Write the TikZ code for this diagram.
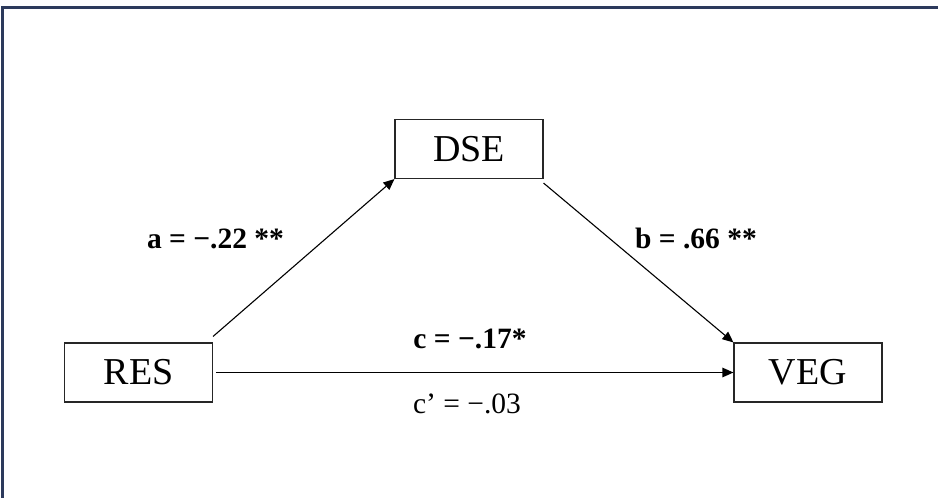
\documentclass[tikz,border=0pt]{standalone}
\usepackage{fontspec}
\setmainfont{Liberation Serif}
\usetikzlibrary{arrows.meta}
\definecolor{framecol}{RGB}{44,58,92}
\begin{document}
\begin{tikzpicture}[x=1pt,y=-1pt,
  box/.style={draw=black!85,line width=1.1pt,minimum width=148pt,minimum height=59pt,inner sep=0pt,font=\fontsize{38}{40}\selectfont},
  conn/.style={line width=1.1pt,-{Triangle[length=11pt,width=9.5pt]}},
  lbl/.style={anchor=base,inner sep=0pt,font=\fontsize{29.5}{31}\selectfont}]
\useasboundingbox (0,0) rectangle (938,498);
\fill[white] (0,0) rectangle (938,498);
\draw[framecol,line width=3pt] (2.5,7.5) rectangle (960,520);
\node[box] (DSE) at (469,149) {DSE};
\node[box] (RES) at (138.5,372.5) {RES};
\node[box] (VEG) at (808,372.5) {VEG};
\draw[conn] ([yshift=6pt]RES.north east) -- (DSE.south west);
\draw[conn] ([yshift=-4pt]DSE.south east) -- (VEG.north west);
\draw[conn] ([xshift=3pt]RES.east) -- (VEG.west);
\node[lbl] (la) at (215.5,248) {\bfseries a = −.22 **};
\node[lbl] (lb) at (696,248) {\bfseries b = .66 **};
\node[lbl] (lc) at (470,348) {\bfseries c = −.17*};
\node[lbl] (lcp) at (467,413) {c’ = −.03};
\end{tikzpicture}
\end{document}
